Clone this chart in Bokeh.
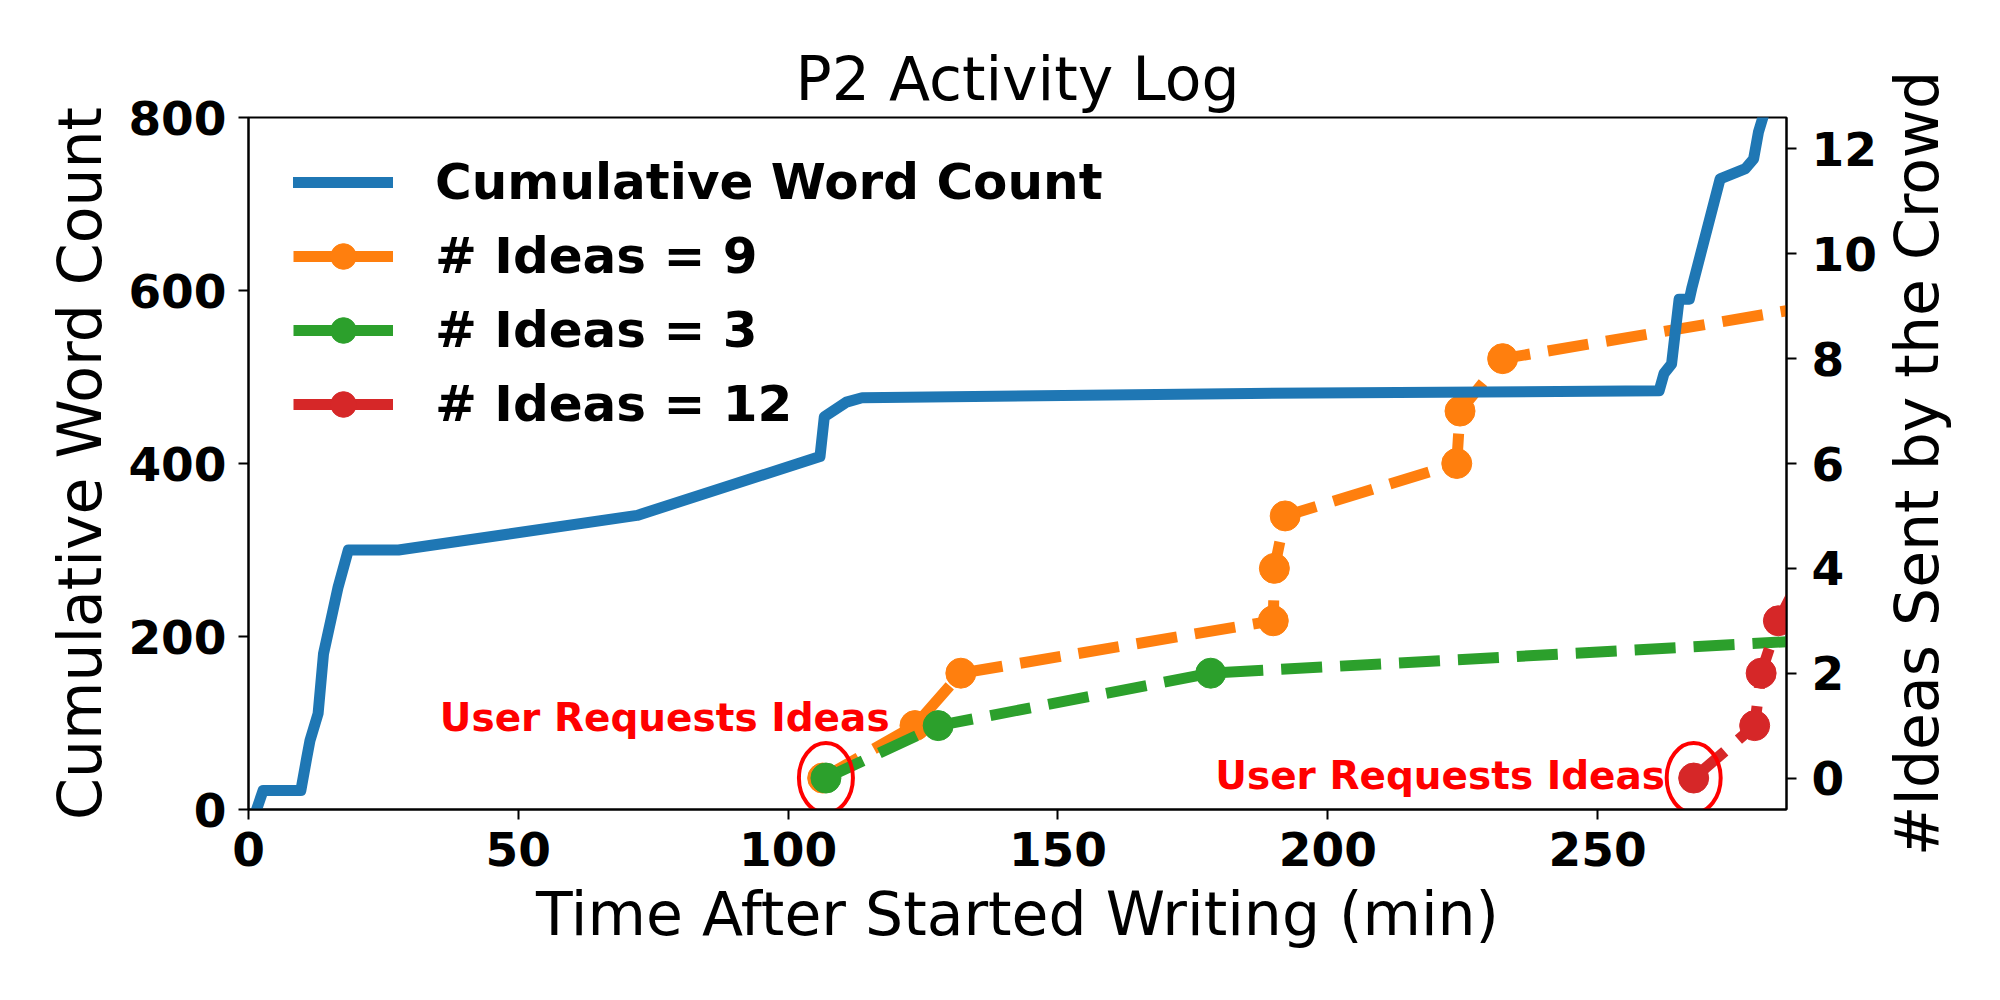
import math
from bokeh.plotting import figure
from bokeh.layouts import row
from bokeh.models import (Range1d, LinearAxis, FixedTicker, Legend, LegendItem)
from bokeh.core.properties import value
from bokeh.embed import file_html
from bokeh.resources import INLINE

# ---------------- data ----------------
words_t = [1.5, 2.7, 9.7, 10.8, 11.4, 12.9, 13.9, 16.6, 18.5, 27.8, 72.0, 105.9,
           106.7, 110.8, 113.7, 185.6, 261.4, 262.3, 263.7, 265.1, 267.0, 267.5,
           272.7, 277.4, 278.9, 279.8, 281.2]
words_c = [0, 22, 22, 60, 80, 111, 180, 257, 300, 300, 340, 408,
           454, 471, 476, 481, 484, 504, 515, 590, 590, 604,
           729, 741, 752, 783, 812]

ideas9_t = [106.4, 123.5, 132.0, 189.9, 190.1, 192.1, 223.9, 224.5, 232.4, 290.0]
ideas9_v = [0, 1, 2, 3, 4, 5, 6, 7, 8, 9]

ideas3_t = [107.0, 127.8, 178.3, 356.0]
ideas3_v = [0, 1, 2, 3]

ideas12_t = [267.8, 279.1, 280.3, 283.5, 288.5]
ideas12_v = [0, 1, 2, 3, 4]

x_ticks = [0, 50, 100, 150, 200, 250]
y_ticks = [0, 200, 400, 600, 800]
y2_ticks = [0, 2, 4, 6, 8, 10, 12]

request_label = "User Requests Ideas"
right_label = "#Ideas Sent by the Crowd"

BLUE = "#1f77b4"
ORANGE = "#ff7f0e"
GREEN = "#2ca02c"
RED = "#d62728"
FONT = "DejaVu Sans"
LW = 11
DASH = "41 18"
MS = 30

p = figure(frame_width=1538, frame_height=692,
           min_border_left=248, min_border_right=90,
           min_border_top=117, min_border_bottom=183,
           x_range=Range1d(0, 285), y_range=Range1d(0, 800),
           output_backend="svg", toolbar_location=None,
           background_fill_color="white", border_fill_color="white")

p.extra_y_ranges = {"ideas": Range1d(-0.6, 12.6)}

p.xgrid.visible = False
p.ygrid.visible = False
p.outline_line_color = "black"
p.outline_line_width = 2
p.outline_line_alpha = 1

# title
p.title.text = "P2 Activity Log"
p.title.text_font = FONT
p.title.text_font_size = "60px"
p.title.text_font_style = "normal"
p.title.align = "center"
p.title.text_color = "black"
p.title.standoff = 8


def style_axis(ax, label, ticks):
    ax.axis_label = label
    ax.axis_label_text_font = FONT
    ax.axis_label_text_font_size = "60px"
    ax.axis_label_text_font_style = "normal"
    ax.axis_label_text_color = "black"
    ax.major_label_text_font = FONT
    ax.major_label_text_font_size = "47px"
    ax.major_label_text_font_style = "bold"
    ax.major_label_text_color = "black"
    ax.axis_line_color = "black"
    ax.axis_line_width = 2
    ax.major_tick_line_color = "black"
    ax.major_tick_line_width = 2
    ax.major_tick_out = 10
    ax.major_tick_in = 0
    ax.minor_tick_line_color = None
    ax.ticker = FixedTicker(ticks=ticks)


style_axis(p.xaxis[0], "Time After Started Writing (min)", x_ticks)
p.xaxis[0].major_label_standoff = 12
p.xaxis[0].axis_label_standoff = 10

style_axis(p.yaxis[0], "Cumulative Word Count", y_ticks)
p.yaxis[0].major_label_standoff = 12
p.yaxis[0].axis_label_standoff = 10

ax2 = LinearAxis(y_range_name="ideas")
style_axis(ax2, None, y2_ticks)
ax2.major_label_standoff = 15
p.add_layout(ax2, "right")

# idea series (dashed with markers)
series = [("# Ideas = 9", ideas9_t, ideas9_v, ORANGE),
          ("# Ideas = 3", ideas3_t, ideas3_v, GREEN),
          ("# Ideas = 12", ideas12_t, ideas12_v, RED)]
idea_renderers = []
for lbl, t, v, c in series:
    lr = p.line(t, v, line_color=c, line_width=LW, line_dash=DASH,
                line_join="round", y_range_name="ideas")
    sr = p.scatter(t, v, marker="circle", size=MS, fill_color=c, line_color=c,
                   y_range_name="ideas")
    idea_renderers.append((lbl, lr, sr))

# cumulative word count (on top)
blue = p.line(words_t, words_c, line_color=BLUE, line_width=LW,
              line_join="round", line_cap="square")

# request annotations
p.ellipse(x=[ideas3_t[0], ideas12_t[0]], y=[ideas3_v[0], ideas12_v[0]],
          width=54, height=70, width_units="screen", height_units="screen",
          fill_alpha=0, line_color="red", line_width=4, y_range_name="ideas")
p.text(x=[118.8, 262.5], y=[1.15, 0.04], text=[request_label, request_label],
       text_font=value(FONT), text_font_style="bold", text_font_size="39px",
       text_color="red", text_align="right", text_baseline="alphabetic",
       y_range_name="ideas")

items = [LegendItem(label="Cumulative Word Count", renderers=[blue])]
for lbl, lr, sr in idea_renderers:
    items.append(LegendItem(label=lbl, renderers=[lr, sr]))

legend = Legend(items=items, location=(45, 373))
legend.label_text_font = FONT
legend.label_text_font_size = "50px"
legend.label_text_font_style = "bold"
legend.label_text_color = "black"
legend.glyph_width = 100
legend.glyph_height = 64
legend.label_height = 64
legend.label_standoff = 42
legend.spacing = 10
legend.padding = 0
legend.margin = 0
legend.border_line_alpha = 0
legend.background_fill_alpha = 0
p.add_layout(legend)

# narrow companion panel that carries the right-hand axis title,
# reading bottom-to-top as in the reference
p2 = figure(frame_width=20, frame_height=692,
            min_border_left=0, min_border_right=0,
            min_border_top=117, min_border_bottom=183,
            x_range=Range1d(0, 1), y_range=Range1d(0, 1),
            x_axis_type=None, y_axis_type=None,
            output_backend="svg", toolbar_location=None,
            title_location="left",
            background_fill_color="white", border_fill_color="white")
p2.outline_line_color = None
p2.xgrid.visible = False
p2.ygrid.visible = False
p2.title.text = right_label
p2.title.text_font = FONT
p2.title.text_font_size = "60px"
p2.title.text_font_style = "normal"
p2.title.text_color = "black"
p2.title.align = "center"
p2.title.standoff = 0

layout = row(p, p2, spacing=0)
open("out.html", "w").write(file_html(layout, INLINE))
